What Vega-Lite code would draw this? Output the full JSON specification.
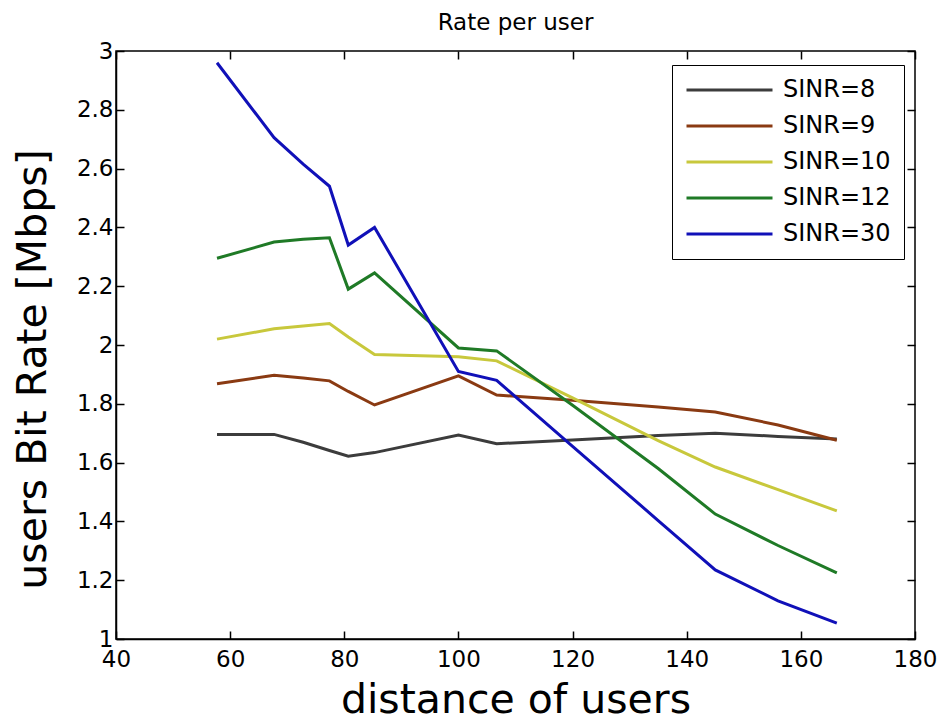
{
  "$schema": "https://vega.github.io/schema/vega-lite/v6.json",
  "width": 799,
  "height": 588,
  "autosize": {"type": "none"},
  "padding": {"left": 116, "top": 51, "right": 27, "bottom": 85},
  "background": "white",
  "title": {
    "text": "Rate per user",
    "font": "DejaVu Sans",
    "fontSize": 23,
    "fontWeight": "normal",
    "color": "black",
    "offset": 5
  },
  "config": {
    "view": {"stroke": "black", "strokeWidth": 1.5},
    "font": "DejaVu Sans",
    "axis": {
      "grid": false,
      "domainColor": "black",
      "domainWidth": 1.5,
      "tickColor": "black",
      "tickWidth": 1.5,
      "tickSize": -8,
      "labelFont": "DejaVu Sans",
      "labelFontSize": 23,
      "labelColor": "black",
      "titleFont": "DejaVu Sans",
      "titleFontWeight": "normal",
      "titleColor": "black"
    }
  },
  "data": {
    "values": [
      {"d": 57.7, "r": 1.696, "s": "SINR=8"},
      {"d": 67.7, "r": 1.696, "s": "SINR=8"},
      {"d": 72.8, "r": 1.669, "s": "SINR=8"},
      {"d": 77.4, "r": 1.641, "s": "SINR=8"},
      {"d": 80.7, "r": 1.622, "s": "SINR=8"},
      {"d": 85.3, "r": 1.634, "s": "SINR=8"},
      {"d": 100.0, "r": 1.694, "s": "SINR=8"},
      {"d": 106.7, "r": 1.664, "s": "SINR=8"},
      {"d": 120.0, "r": 1.677, "s": "SINR=8"},
      {"d": 135.0, "r": 1.692, "s": "SINR=8"},
      {"d": 145.0, "r": 1.700, "s": "SINR=8"},
      {"d": 156.0, "r": 1.689, "s": "SINR=8"},
      {"d": 166.3, "r": 1.680, "s": "SINR=8"},

      {"d": 57.7, "r": 1.868, "s": "SINR=9"},
      {"d": 67.7, "r": 1.897, "s": "SINR=9"},
      {"d": 72.8, "r": 1.888, "s": "SINR=9"},
      {"d": 77.4, "r": 1.878, "s": "SINR=9"},
      {"d": 80.7, "r": 1.842, "s": "SINR=9"},
      {"d": 85.3, "r": 1.796, "s": "SINR=9"},
      {"d": 100.0, "r": 1.895, "s": "SINR=9"},
      {"d": 106.7, "r": 1.830, "s": "SINR=9"},
      {"d": 120.0, "r": 1.812, "s": "SINR=9"},
      {"d": 135.0, "r": 1.789, "s": "SINR=9"},
      {"d": 145.0, "r": 1.772, "s": "SINR=9"},
      {"d": 156.0, "r": 1.728, "s": "SINR=9"},
      {"d": 166.3, "r": 1.676, "s": "SINR=9"},

      {"d": 57.7, "r": 2.020, "s": "SINR=10"},
      {"d": 67.7, "r": 2.055, "s": "SINR=10"},
      {"d": 72.8, "r": 2.065, "s": "SINR=10"},
      {"d": 77.4, "r": 2.073, "s": "SINR=10"},
      {"d": 80.7, "r": 2.027, "s": "SINR=10"},
      {"d": 85.3, "r": 1.968, "s": "SINR=10"},
      {"d": 100.0, "r": 1.960, "s": "SINR=10"},
      {"d": 106.7, "r": 1.946, "s": "SINR=10"},
      {"d": 120.0, "r": 1.820, "s": "SINR=10"},
      {"d": 135.0, "r": 1.675, "s": "SINR=10"},
      {"d": 145.0, "r": 1.585, "s": "SINR=10"},
      {"d": 156.0, "r": 1.508, "s": "SINR=10"},
      {"d": 166.3, "r": 1.436, "s": "SINR=10"},

      {"d": 57.7, "r": 2.295, "s": "SINR=12"},
      {"d": 67.7, "r": 2.350, "s": "SINR=12"},
      {"d": 72.8, "r": 2.360, "s": "SINR=12"},
      {"d": 77.4, "r": 2.365, "s": "SINR=12"},
      {"d": 80.7, "r": 2.190, "s": "SINR=12"},
      {"d": 85.3, "r": 2.245, "s": "SINR=12"},
      {"d": 100.0, "r": 1.990, "s": "SINR=12"},
      {"d": 106.7, "r": 1.980, "s": "SINR=12"},
      {"d": 120.0, "r": 1.795, "s": "SINR=12"},
      {"d": 135.0, "r": 1.580, "s": "SINR=12"},
      {"d": 145.0, "r": 1.425, "s": "SINR=12"},
      {"d": 156.0, "r": 1.318, "s": "SINR=12"},
      {"d": 166.3, "r": 1.225, "s": "SINR=12"},

      {"d": 57.7, "r": 2.960, "s": "SINR=30"},
      {"d": 67.7, "r": 2.705, "s": "SINR=30"},
      {"d": 72.8, "r": 2.615, "s": "SINR=30"},
      {"d": 77.4, "r": 2.540, "s": "SINR=30"},
      {"d": 80.7, "r": 2.340, "s": "SINR=30"},
      {"d": 85.3, "r": 2.400, "s": "SINR=30"},
      {"d": 100.0, "r": 1.910, "s": "SINR=30"},
      {"d": 106.7, "r": 1.880, "s": "SINR=30"},
      {"d": 120.0, "r": 1.655, "s": "SINR=30"},
      {"d": 135.0, "r": 1.403, "s": "SINR=30"},
      {"d": 145.0, "r": 1.235, "s": "SINR=30"},
      {"d": 156.0, "r": 1.130, "s": "SINR=30"},
      {"d": 166.3, "r": 1.054, "s": "SINR=30"}
    ]
  },
  "resolve": {"axis": {"x": "independent", "y": "independent"}},
  "layer": [
    {
      "mark": {"type": "line", "strokeWidth": 3, "clip": true},
      "encoding": {
        "x": {
          "field": "d",
          "type": "quantitative",
          "scale": {"domain": [40, 180], "nice": false, "zero": false},
          "axis": {
            "orient": "bottom",
            "values": [40, 60, 80, 100, 120, 140, 160, 180],
            "title": "distance of users",
            "titleFontSize": 41,
            "titlePadding": 9,
            "labelPadding": 17,
            "labelFlush": false
          }
        },
        "y": {
          "field": "r",
          "type": "quantitative",
          "scale": {"domain": [1, 3], "nice": false, "zero": false},
          "axis": {
            "orient": "left",
            "values": [1, 1.2, 1.4, 1.6, 1.8, 2, 2.2, 2.4, 2.6, 2.8, 3],
            "format": "~g",
            "title": "users Bit Rate [Mbps]",
            "titleFontSize": 41,
            "titlePadding": 22,
            "titleY": 318,
            "labelPadding": 11,
            "labelFlush": false
          }
        },
        "color": {
          "field": "s",
          "type": "nominal",
          "sort": ["SINR=8", "SINR=9", "SINR=10", "SINR=12", "SINR=30"],
          "scale": {
            "domain": ["SINR=8", "SINR=9", "SINR=10", "SINR=12", "SINR=30"],
            "range": ["#3c3c3c", "#8a3a12", "#c8c83c", "#1f7a26", "#1010b8"]
          },
          "legend": {
            "title": null,
            "orient": "none",
            "legendX": 556,
            "legendY": 14,
            "direction": "vertical",
            "strokeColor": "black",
            "fillColor": "white",
            "padding": 13,
            "symbolType": "stroke",
            "symbolSize": 7396,
            "symbolStrokeWidth": 3,
            "clipHeight": 24,
            "rowPadding": 12,
            "labelFont": "DejaVu Sans",
            "labelFontSize": 24,
            "labelColor": "black",
            "labelOffset": 9,
            "labelLimit": 300
          }
        }
      }
    },
    {
      "mark": {"type": "point", "opacity": 0},
      "encoding": {
        "x": {
          "field": "d",
          "type": "quantitative",
          "axis": {
            "orient": "top",
            "values": [40, 60, 80, 100, 120, 140, 160, 180],
            "labels": false,
            "domain": false,
            "title": null
          }
        },
        "y": {
          "field": "r",
          "type": "quantitative",
          "axis": {
            "orient": "right",
            "values": [1, 1.2, 1.4, 1.6, 1.8, 2, 2.2, 2.4, 2.6, 2.8, 3],
            "labels": false,
            "domain": false,
            "title": null
          }
        }
      }
    }
  ]
}
